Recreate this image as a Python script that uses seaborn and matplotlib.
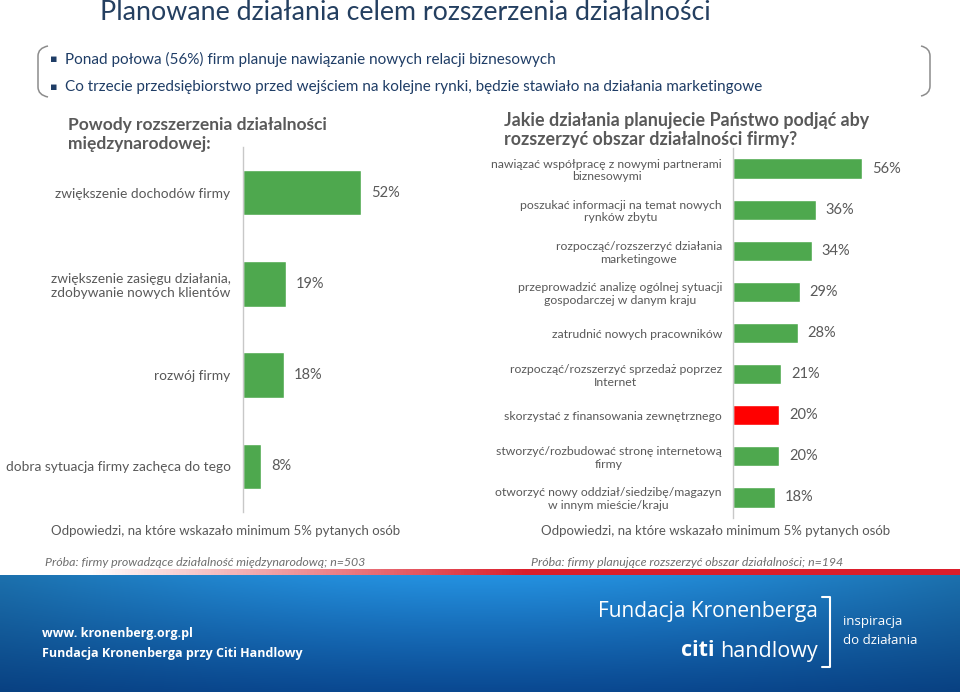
import numpy as np
import pandas as pd
import matplotlib.pyplot as plt
import seaborn as sns
from matplotlib.path import Path
from matplotlib.patches import PathPatch
from matplotlib.lines import Line2D

# data
reasons = [
    "zwiększenie dochodów firmy",
    "zwiększenie zasięgu działania,\nzdobywanie nowych klientów",
    "rozwój firmy",
    "dobra sytuacja firmy zachęca do tego",
]
reasons_pct = [52, 19, 18, 8]

actions = [
    "nawiązać współpracę z nowymi partnerami\nbiznesowymi",
    "poszukać informacji na temat nowych\nrynków zbytu",
    "rozpocząć/rozszerzyć działania\nmarketingowe",
    "przeprowadzić analizę ogólnej sytuacji\ngospodarczej w danym kraju",
    "zatrudnić nowych pracowników",
    "rozpocząć/rozszerzyć sprzedaż poprzez\nInternet",
    "skorzystać z finansowania zewnętrznego",
    "stworzyć/rozbudować stronę internetową\nfirmy",
    "otworzyć nowy oddział/siedzibę/magazyn\nw innym mieście/kraju",
]
actions_pct = [56, 36, 34, 29, 28, 21, 20, 20, 18]
highlight = "skorzystać z finansowania zewnętrznego"

bullets = [
    "Ponad połowa (56%) firm planuje nawiązanie nowych relacji biznesowych",
    "Co trzecie przedsiębiorstwo przed wejściem na kolejne rynki, będzie stawiało na działania marketingowe",
]

GREEN = "#4ea84e"
RED = "#ff0000"
GREY = "#595959"
NAVY = "#1f3d66"

sns.set_style("white")
plt.rcParams["font.family"] = ["Lato", "DejaVu Sans"]

W, H = 960, 692
fig = plt.figure(figsize=(9.6, 6.92), dpi=100)


def px(x, y):
    return x / W, 1 - y / H


def box(x0, y0, x1, y1):
    return [x0 / W, 1 - y1 / H, (x1 - x0) / W, (y1 - y0) / H]


def style_bars(ax, pad, size, val_size, align):
    ax.set_xlabel("")
    ax.set_ylabel("")
    ax.set_xticks([])
    for s in ["top", "right", "bottom"]:
        ax.spines[s].set_visible(False)
    ax.spines["left"].set_color("#c8c8c8")
    ax.spines["left"].set_linewidth(1.0)
    ax.tick_params(axis="y", length=0, pad=pad, labelsize=size, labelcolor=GREY)
    for t in ax.get_yticklabels():
        t.set_multialignment(align)
    for c in ax.containers:
        ax.bar_label(c, labels=[f"{v:.0f}%" for v in c.datavalues],
                     padding=7, fontsize=val_size, color=GREY)


# left chart
df_l = pd.DataFrame({"reason": reasons, "pct": reasons_pct})
ax1 = fig.add_axes(box(243, 147, 470, 512))
sns.barplot(data=df_l, y="reason", x="pct", hue="reason", legend=False,
            palette=[GREEN] * len(reasons), width=0.5, saturation=1, ax=ax1)
ax1.set_xlim(0, 100)
style_bars(ax1, 9, 9.9, 10.5, "center")

# right chart
df_r = pd.DataFrame({"action": actions, "pct": actions_pct})
ax2 = fig.add_axes(box(733, 148, 957, 518))
colors = [RED if a == highlight else GREEN for a in actions]
sns.barplot(data=df_r, y="action", x="pct", hue="action", legend=False,
            palette=colors, width=0.49, saturation=1, ax=ax2)
ax2.set_xlim(0, 97)
style_bars(ax2, 8, 8.8, 10.5, "center")

# titles
fig.text(*px(100, 13), "Planowane działania celem rozszerzenia działalności",
         fontsize=19.3, color="#243f60", va="center", ha="left")
for i, b in enumerate(bullets):
    y = 59 + i * 28
    fig.text(*px(50, y), "▪", fontsize=8, color=NAVY, va="center",
             family=["DejaVu Sans"])
    fig.text(*px(65, y), b, fontsize=11, color=NAVY, va="center")

# brackets around the bullets
def bracket(x_edge, x_tip, y0, y1):
    verts = [(x_tip, y0), (x_edge, y0 + 2), (x_edge, y0 + 10),
             (x_edge, y1 - 10), (x_edge, y1 - 2), (x_tip, y1)]
    codes = [Path.MOVETO, Path.CURVE3, Path.CURVE3,
             Path.LINETO, Path.CURVE3, Path.CURVE3]
    verts = [px(*v) for v in verts]
    fig.add_artist(PathPatch(Path(verts, codes), fill=False, ec="#8c8c8c",
                             lw=1.1, transform=fig.transFigure))


bracket(38, 48, 46, 97)
bracket(930, 921, 46, 96)

fig.text(*px(68, 117), "Powody rozszerzenia działalności\nmiędzynarodowej:",
         fontsize=12.5, fontweight="bold", color=GREY, va="top", ha="left",
         linespacing=1.2)
fig.text(*px(504, 112), "Jakie działania planujecie Państwo podjąć aby\nrozszerzyć obszar działalności firmy?",
         fontsize=12.9, fontweight="bold", color=GREY, va="top", ha="left",
         linespacing=1.15)

# footnotes
fig.text(*px(226, 531), "Odpowiedzi, na które wskazało minimum 5% pytanych osób",
         fontsize=9.5, color=GREY, ha="center", va="center")
fig.text(*px(716, 531), "Odpowiedzi, na które wskazało minimum 5% pytanych osób",
         fontsize=9.5, color=GREY, ha="center", va="center")
fig.text(*px(45, 562), "Próba: firmy prowadzące działalność międzynarodową; n=503",
         fontsize=8.9, color="#6f6f6f", style="italic", ha="left", va="center")
fig.text(*px(531, 562), "Próba: firmy planujące rozszerzyć obszar działalności; n=194",
         fontsize=8.9, color="#6f6f6f", style="italic", ha="left", va="center")

# footer band
axf = fig.add_axes(box(0, 575, 960, 692))
gy = np.linspace(0, 1, 60)[:, None]
gx = np.linspace(0, 1, 200)[None, :]
top = np.array([0.13, 0.52, 0.80])
bot = np.array([0.04, 0.30, 0.60])
grad = top[None, None, :] * (1 - gy[..., None]) + bot[None, None, :] * gy[..., None]
grad = grad * (0.85 + 0.25 * np.sin(np.pi * gx)[..., None] * (1 - 0.6 * gy[..., None]))
axf.imshow(np.clip(grad, 0, 1), aspect="auto", extent=[0, 1, 0, 1])
axf.set_axis_off()

axr = fig.add_axes(box(0, 569, 960, 575))
red = np.zeros((1, 300, 4))
red[..., 0], red[..., 1], red[..., 2] = 0.86, 0.12, 0.17
red[..., 3] = np.clip(np.linspace(-0.2, 2.0, 300), 0, 1)
axr.imshow(red, aspect="auto", extent=[0, 1, 0, 1])
axr.set_axis_off()

ff = ["Open Sans", "DejaVu Sans"]
fig.text(*px(42, 633), "www. kronenberg.org.pl", fontsize=9, fontweight="bold",
         color="white", va="center", family=ff)
fig.text(*px(42, 653), "Fundacja Kronenberga przy Citi Handlowy", fontsize=9,
         fontweight="bold", color="white", va="center", family=ff)
fig.text(*px(818, 612), "Fundacja Kronenberga", fontsize=15, color="white",
         ha="right", va="center", family=ff)
fig.text(*px(818, 651), "handlowy", fontsize=15.5, color="white",
         ha="right", va="center", family=ff)
fig.text(*px(714, 651), "citi", fontsize=15.5, fontweight="bold", color="white",
         ha="right", va="center", family=ff)
fig.add_artist(Line2D([px(822, 0)[0], px(830, 0)[0], px(830, 0)[0], px(822, 0)[0]],
                      [px(0, 597)[1], px(0, 597)[1], px(0, 667)[1], px(0, 667)[1]],
                      color="white", lw=1.5, transform=fig.transFigure))
fig.text(*px(843, 621), "inspiracja", fontsize=9.5, color="white",
         va="center", family=ff)
fig.text(*px(843, 640), "do działania", fontsize=9.5, color="white",
         va="center", family=ff)

fig.savefig("out.png", dpi=100)
